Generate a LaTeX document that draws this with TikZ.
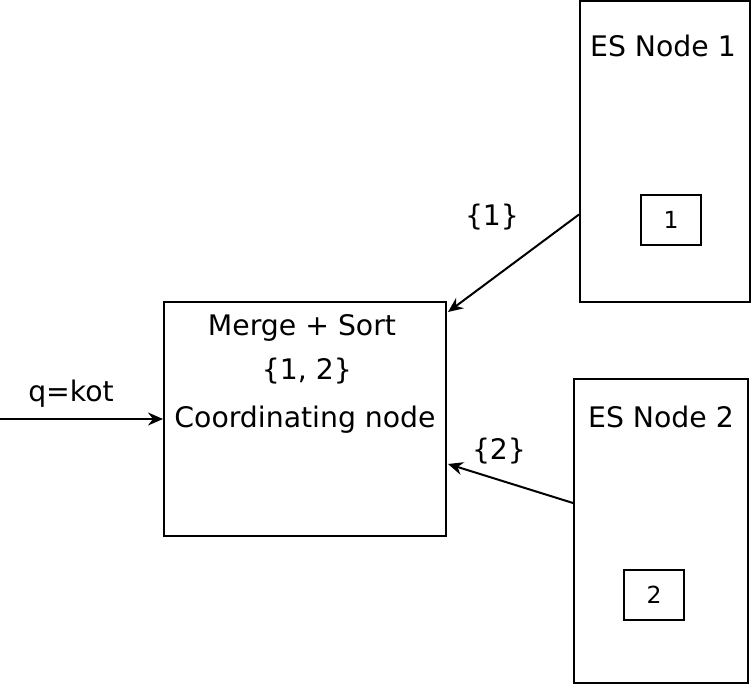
\documentclass[tikz,border=0pt]{standalone}
\usepackage{fontspec}
\setmainfont{DejaVu Sans}
\usetikzlibrary{shapes,arrows,arrows.meta}
\usetikzlibrary{calc}
\tikzstyle{esblock} = [rectangle, draw, line width=2pt, inner sep=0pt]
\tikzstyle{shard} = [rectangle, draw, line width=2pt, minimum width=60pt,
    minimum height=50pt, font=\fontsize{23.5}{28}\selectfont]
\tikzset{line/.style={draw, line width=2pt, -{Stealth[length=15pt, width=13pt, inset=5pt]}}}

\begin{document}
\begin{tikzpicture}[x=1pt, y=-1pt, font=\fontsize{28.3}{34}\selectfont]
    \useasboundingbox (0,0) rectangle (751,684);
    % Place nodes
    \node [esblock, minimum width=282pt, minimum height=234pt] (coord) at (305,419) {};
    \node (merge) at (302,328) {Merge + Sort};
    \node (ids) at (307,371) {\{1, 2\}};
    \node (coordname) at (305,420) {Coordinating node};
    \node [esblock, minimum width=170pt, minimum height=301pt] (es1) at (665,151.5) {};
    \node (es1name) at (663,46) {ES Node 1};
    \node [shard] (shard1) at (671,220) {1};
    \node [esblock, minimum width=174pt, minimum height=304pt] (es2) at (661,531) {};
    \node (es2name) at (661,417) {ES Node 2};
    \node [shard] (shard2) at (654,595) {2};
    \coordinate (query) at (0,419);
    \node (qlabel) at (71,394) {q=kot};
    \node (res1) at (492,217) {\{1\}};
    \node (res2) at (499,451) {\{2\}};
    % Draw edges
    \path [line] (query) -- (coord.west);
    \path [line] ($(es1.west)+(0,63)$) -- ($(coord.north east)+(1,11)$);
    \path [line] ($(es2.west)+(0,-28)$) -- ($(coord.east)+(1,45)$);
\end{tikzpicture}
\end{document}
